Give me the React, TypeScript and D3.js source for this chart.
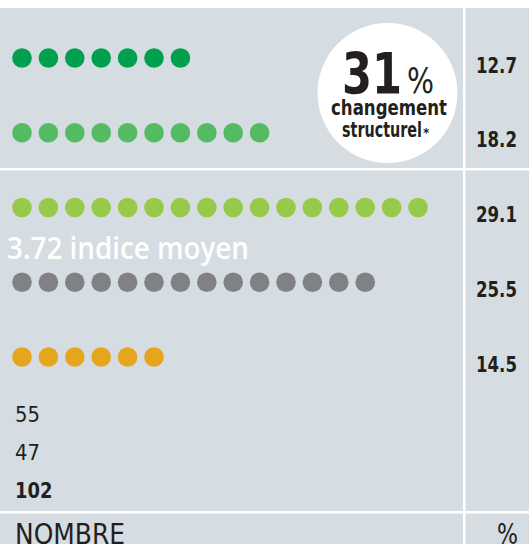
import React from "react";
import * as d3 from "d3";

const categories = ["A", "B", "C", "D", "E"];
const dotCounts = [7, 10, 16, 14, 6];
const percentLabels = ["12.7", "18.2", "29.1", "25.5", "14.5"];
const dotColors = ["#00a04f", "#55bb63", "#97c94b", "#808185", "#e5a51c"];
const totals = ["55", "47", "102"];
const highlightValue = "31";
const highlightLines = ["changement", "structurel"];
const meanLabel = "3.72 indice moyen";

const W = 529;
const H = 544;
const FONT = "'DejaVu Sans', 'Open Sans', sans-serif";
const INK = "#231f20";

export default function App() {
  const y = d3.scalePoint<string>().domain(categories).range([58, 357]);
  const x = d3.scaleLinear().domain([0, 15]).range([22, 418]);
  const totalY = d3.scalePoint<string>().domain(totals).range([422, 498]);
  const bg = "#d5dce2";
  const divX = 463;

  return (
    <svg width={W} height={H} style={{ position: "absolute", left: 0, top: 0 }}>
      <rect x={0} y={0} width={W} height={H} fill="#ffffff" />
      {/* panels */}
      <rect x={0} y={8} width={divX} height={160} fill={bg} />
      <rect x={divX + 2.5} y={8} width={W - divX - 2.5} height={160} fill={bg} />
      <rect x={0} y={170.5} width={divX} height={340.5} fill={bg} />
      <rect x={divX + 2.5} y={170.5} width={W - divX - 2.5} height={340.5} fill={bg} />
      <rect x={0} y={513.5} width={divX} height={40} fill={bg} />
      <rect x={divX + 2.5} y={513.5} width={W - divX - 2.5} height={40} fill={bg} />

      {/* dots */}
      {categories.map((c, ci) => (
        <g key={c}>
          {d3.range(dotCounts[ci]).map((i) => (
            <circle key={i} cx={x(i)} cy={y(c)} r={9.8} fill={dotColors[ci]} />
          ))}
          <text
            x={517}
            y={(y(c) as number) + 14.5}
            textAnchor="end"
            fontFamily={FONT}
            fontWeight="bold"
            fontSize={21}
            fill={INK}
            textLength={41}
            lengthAdjust="spacingAndGlyphs"
          >
            {percentLabels[ci]}
          </text>
        </g>
      ))}

      {/* mean label */}
      <text
        x={7}
        y={259}
        fontFamily="'Open Sans', 'DejaVu Sans', sans-serif"
        fontWeight={600}
        fontSize={30}
        fill="#ffffff"
        textLength={242}
        lengthAdjust="spacingAndGlyphs"
      >
        {meanLabel}
      </text>

      {/* highlight circle */}
      <circle cx={387.5} cy={93} r={70} fill="#ffffff" />
      <text
        x={342}
        y={94}
        fontFamily={FONT}
        fontWeight="bold"
        fontSize={57}
        fill={INK}
        textLength={60}
        lengthAdjust="spacingAndGlyphs"
      >
        {highlightValue}
      </text>
      <text
        x={407}
        y={93}
        fontFamily={FONT}
        fontSize={35}
        fill={INK}
        textLength={27}
        lengthAdjust="spacingAndGlyphs"
      >
        %
      </text>
      <text
        x={389}
        y={115}
        textAnchor="middle"
        fontFamily={FONT}
        fontWeight="bold"
        fontSize={22}
        fill={INK}
        textLength={116}
        lengthAdjust="spacingAndGlyphs"
      >
        {highlightLines[0]}
      </text>
      <text
        x={342}
        y={137}
        fontFamily={FONT}
        fontWeight="bold"
        fontSize={22}
        fill={INK}
        textLength={80}
        lengthAdjust="spacingAndGlyphs"
      >
        {highlightLines[1]}
      </text>
      <text x={423} y={137} fontFamily={FONT} fontWeight="bold" fontSize={12} fill={INK}>
        *
      </text>

      {/* totals */}
      {totals.map((t, i) => (
        <text
          key={t}
          x={15}
          y={totalY(t)}
          fontFamily={FONT}
          fontWeight={i === totals.length - 1 ? "bold" : "normal"}
          fontSize={22}
          fill={INK}
          textLength={t.length * 12.5}
          lengthAdjust="spacingAndGlyphs"
        >
          {t}
        </text>
      ))}

      {/* footer labels */}
      <text
        x={15}
        y={544}
        fontFamily={FONT}
        fontSize={28}
        fill={INK}
        textLength={110}
        lengthAdjust="spacingAndGlyphs"
      >
        NOMBRE
      </text>
      <text
        x={518}
        y={544}
        textAnchor="end"
        fontFamily={FONT}
        fontSize={28}
        fill={INK}
        textLength={21}
        lengthAdjust="spacingAndGlyphs"
      >
        %
      </text>
    </svg>
  );
}
